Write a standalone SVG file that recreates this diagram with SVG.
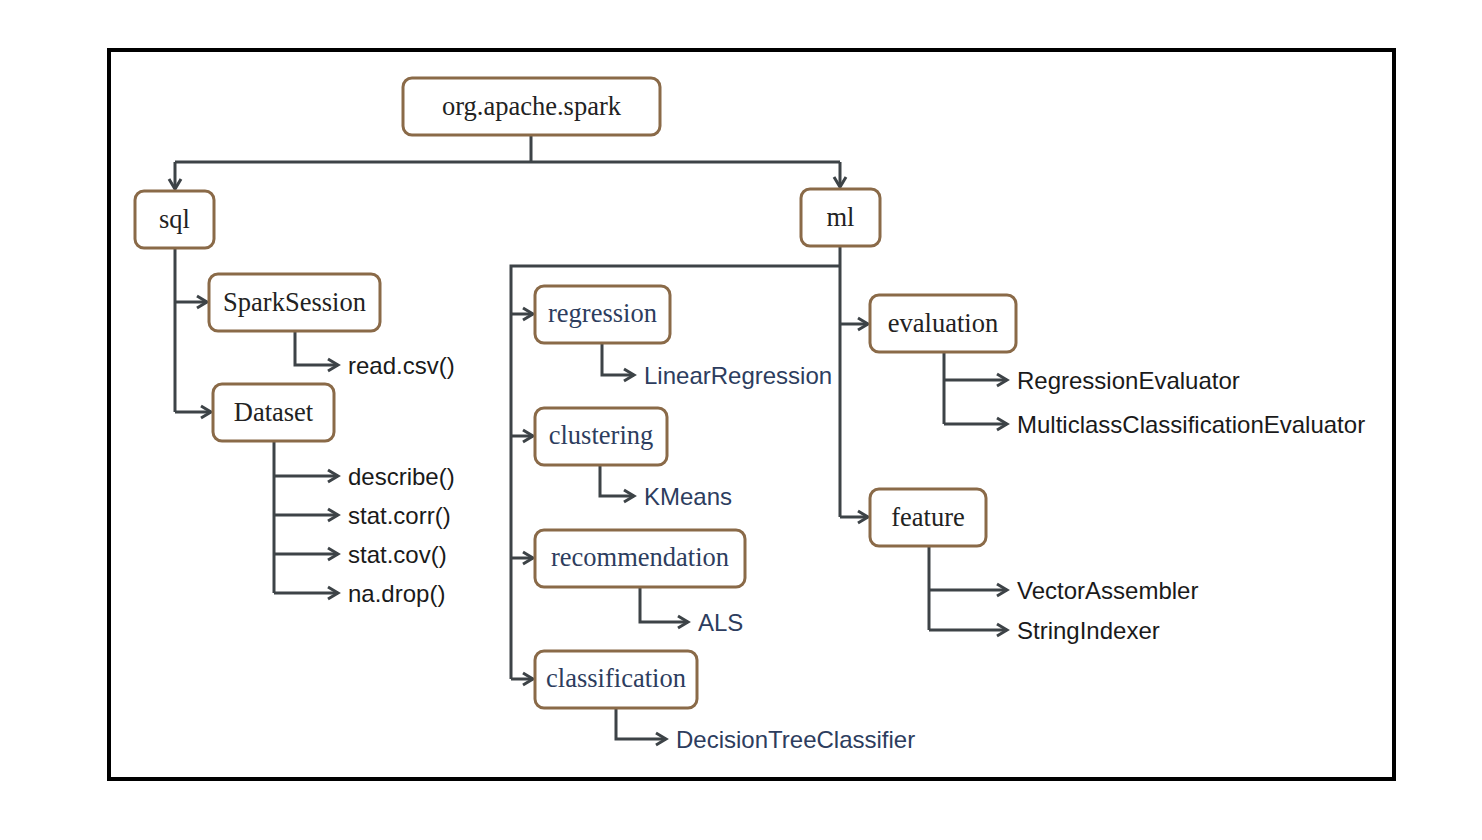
<svg xmlns="http://www.w3.org/2000/svg" width="1482" height="840" viewBox="0 0 1482 840">
<style>
.box{fill:#fff;stroke:#8a6a48;stroke-width:3}
.nt{font-family:"Liberation Serif","DejaVu Serif",serif;font-size:26.5px;fill:#222;text-anchor:middle}
.nt.b{fill:#2d3d5e}
.lt{font-family:"Liberation Sans",Arial,sans-serif;font-size:24px;fill:#1a1a1a}
.lt.b{fill:#2d3d5e}
.c{fill:none;stroke:#3d4347;stroke-width:3}
.a{marker-end:url(#arr)}
</style>
<defs>
<marker id="arr" markerUnits="userSpaceOnUse" markerWidth="16" markerHeight="16" refX="12" refY="8" orient="auto">
<path d="M2,2 L12,8 L2,14" fill="none" stroke="#3d4347" stroke-width="3"/>
</marker>
</defs>
<rect x="0" y="0" width="1482" height="840" fill="#fff"/>
<rect x="109" y="50" width="1285" height="729" fill="none" stroke="#000" stroke-width="4"/>
<g id="connectors">
<path class="c" d="M531,135 V162 M175,162 H840"/>
<path class="c a" d="M175,162 V189"/>
<path class="c a" d="M840,162 V187"/>
<path class="c" d="M175,248 V412"/>
<path class="c a" d="M175,302 H207"/>
<path class="c a" d="M175,412 H211"/>
<path class="c a" d="M295,331 V365 H338"/>
<path class="c" d="M274,441 V593"/>
<path class="c a" d="M274,476 H338"/>
<path class="c a" d="M274,515 H338"/>
<path class="c a" d="M274,554 H338"/>
<path class="c a" d="M274,593 H338"/>
<path class="c" d="M840,246 V517 M840,266 H511 V679"/>
<path class="c a" d="M511,314 H533"/>
<path class="c a" d="M511,436 H533"/>
<path class="c a" d="M511,558 H533"/>
<path class="c a" d="M511,679 H533"/>
<path class="c a" d="M602,343 V375 H634"/>
<path class="c a" d="M600,465 V496 H634"/>
<path class="c a" d="M640,587 V622 H688"/>
<path class="c a" d="M616,708 V739 H666"/>
<path class="c a" d="M840,324 H868"/>
<path class="c a" d="M840,517 H868"/>
<path class="c" d="M944,352 V424"/>
<path class="c a" d="M944,380 H1007"/>
<path class="c a" d="M944,424 H1007"/>
<path class="c" d="M929,546 V630"/>
<path class="c a" d="M929,590 H1007"/>
<path class="c a" d="M929,630 H1007"/>
</g>
<g id="root"><rect class="box" x="403" y="78" width="257" height="57" rx="9"/><text class="nt" x="531.5" y="115">org.apache.spark</text></g>
<g id="sql"><rect class="box" x="135" y="191" width="79" height="57" rx="9"/><text class="nt" x="174.5" y="228">sql</text></g>
<g id="ml"><rect class="box" x="801" y="189" width="79" height="57" rx="9"/><text class="nt" x="840.5" y="226">ml</text></g>
<g id="sparksession"><rect class="box" x="209" y="274" width="171" height="57" rx="9"/><text class="nt" x="294.5" y="311">SparkSession</text></g>
<g id="readcsv"><text class="lt" x="348" y="374">read.csv()</text></g>
<g id="dataset"><rect class="box" x="213" y="384" width="121" height="57" rx="9"/><text class="nt" x="273.5" y="421">Dataset</text></g>
<g id="describe"><text class="lt" x="348" y="485">describe()</text></g>
<g id="statcorr"><text class="lt" x="348" y="524">stat.corr()</text></g>
<g id="statcov"><text class="lt" x="348" y="563">stat.cov()</text></g>
<g id="nadrop"><text class="lt" x="348" y="602">na.drop()</text></g>
<g id="regression"><rect class="box" x="535" y="286" width="135" height="57" rx="9"/><text class="nt b" x="602.5" y="322">regression</text></g>
<g id="linearregression"><text class="lt b" x="644" y="384">LinearRegression</text></g>
<g id="clustering"><rect class="box" x="535" y="408" width="132" height="57" rx="9"/><text class="nt b" x="601" y="444">clustering</text></g>
<g id="kmeans"><text class="lt b" x="644" y="505">KMeans</text></g>
<g id="recommendation"><rect class="box" x="535" y="530" width="210" height="57" rx="9"/><text class="nt b" x="640" y="566">recommendation</text></g>
<g id="als"><text class="lt b" x="698" y="631">ALS</text></g>
<g id="classification"><rect class="box" x="535" y="651" width="162" height="57" rx="9"/><text class="nt b" x="616" y="687">classification</text></g>
<g id="decisiontree"><text class="lt b" x="676" y="748">DecisionTreeClassifier</text></g>
<g id="evaluation"><rect class="box" x="870" y="295" width="146" height="57" rx="9"/><text class="nt" x="943" y="332">evaluation</text></g>
<g id="regressionevaluator"><text class="lt" x="1017" y="389">RegressionEvaluator</text></g>
<g id="multiclass"><text class="lt" x="1017" y="433">MulticlassClassificationEvaluator</text></g>
<g id="feature"><rect class="box" x="870" y="489" width="116" height="57" rx="9"/><text class="nt" x="928" y="526">feature</text></g>
<g id="vectorassembler"><text class="lt" x="1017" y="599">VectorAssembler</text></g>
<g id="stringindexer"><text class="lt" x="1017" y="639">StringIndexer</text></g>
</svg>
